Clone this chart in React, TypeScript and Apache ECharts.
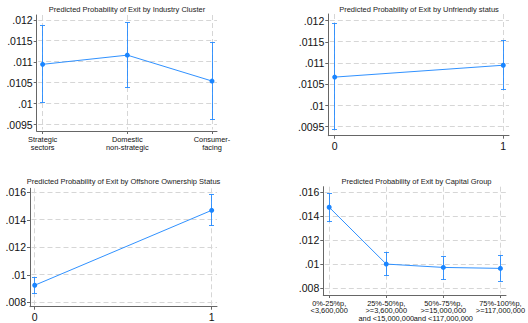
import React, { useEffect, useRef } from "react";
import * as echarts from "echarts";

// ---- Data ----
const industryCats = ["Strategic\nsectors", "Domestic\nnon-strategic", "Consumer-\nfacing"];
const industryMargin = [0.01094, 0.01116, 0.01054];
const industryLo = [0.01002, 0.01038, 0.00962];
const industryHi = [0.01186, 0.01194, 0.01146];
const industryTicks = [0.0095, 0.01, 0.0105, 0.011, 0.0115, 0.012];

const unfriendlyCats = ["0", "1"];
const unfriendlyMargin = [0.01067, 0.01095];
const unfriendlyLo = [0.00944, 0.01037];
const unfriendlyHi = [0.01194, 0.01154];
const unfriendlyTicks = [0.0095, 0.01, 0.0105, 0.011, 0.0115, 0.012];

const offshoreCats = ["0", "1"];
const offshoreMargin = [0.00924, 0.01469];
const offshoreLo = [0.00866, 0.0136];
const offshoreHi = [0.00979, 0.01583];
const offshoreTicks = [0.008, 0.01, 0.012, 0.014, 0.016];

const capitalCats = [
  "0%-25%p,\n<3,600,000",
  "25%-50%p,\n>=3,600,000\nand <15,000,000",
  "50%-75%p,\n>=15,000,000\nand <117,000,000",
  "75%-100%p,\n>=117,000,000",
];
const capitalMargin = [0.01475, 0.01, 0.00972, 0.00964];
const capitalLo = [0.01355, 0.00908, 0.00875, 0.00853];
const capitalHi = [0.01592, 0.01095, 0.01067, 0.0107];
const capitalTicks = [0.008, 0.01, 0.012, 0.014, 0.016];

const titles = [
  "Predicted Probability of Exit by Industry Cluster",
  "Predicted Probability of Exit by Unfriendly status",
  "Predicted Probability of Exit by Offshore Ownership Status",
  "Predicted Probability of Exit by Capital Group",
];

// ---- Layout ----
const FONT = '"Liberation Sans", Arial, sans-serif';
const BLUE = "#1a85ff";
const GRID_COLOR = "#d6d6d6";

const panels = [
  {
    cats: industryCats, margin: industryMargin, lo: industryLo, hi: industryHi, ticks: industryTicks,
    grid: { left: 36.7, top: 15, width: 180.3, height: 116 },
    xMin: -0.07, xMax: 2.059, yMin: 0.009345, yMax: 0.01212, xFont: 7.4, xLH: 7.6, xMargin: 5,
    title: { x: 127, y: 9.5 },
  },
  {
    cats: unfriendlyCats, margin: unfriendlyMargin, lo: unfriendlyLo, hi: unfriendlyHi, ticks: unfriendlyTicks,
    grid: { left: 328.3, top: 14, width: 180.7, height: 121.7 },
    xMin: -0.038, xMax: 1.034, yMin: 0.009288, yMax: 0.012158, xFont: 10.5, xLH: 11, xMargin: 5,
    title: { x: 419, y: 9.5 },
  },
  {
    cats: offshoreCats, margin: offshoreMargin, lo: offshoreLo, hi: offshoreHi, ticks: offshoreTicks,
    grid: { left: 30, top: 188.3, width: 187, height: 118.4 },
    xMin: -0.0266, xMax: 1.03, yMin: 0.00768, yMax: 0.016291, xFont: 10.5, xLH: 11, xMargin: 5,
    title: { x: 123.5, y: 181 },
  },
  {
    cats: capitalCats, margin: capitalMargin, lo: capitalLo, hi: capitalHi, ticks: capitalTicks,
    grid: { left: 323.3, top: 186.7, width: 186.4, height: 108.3 },
    xMin: -0.103, xMax: 3.098, yMin: 0.007415, yMax: 0.016468, xFont: 7.4, xLH: 7.6, xMargin: 4.5,
    title: { x: 416.5, y: 181 },
  },
];

const fmtY = (v: number) => {
  const s = String(+v.toFixed(6));
  return s.replace(/^0\./, ".");
};

const snap = (v: number) => Math.floor(v) + 0.5;

export default function App() {
  const ref = useRef<HTMLDivElement>(null);

  useEffect(() => {
    document.body.style.margin = "0";
    if (!ref.current) return;
    const chart = echarts.init(ref.current, null, { renderer: "svg" });

    const grid: any[] = [];
    const xAxis: any[] = [];
    const yAxis: any[] = [];
    const series: any[] = [];
    const graphic: any[] = [];

    panels.forEach((p, i) => {
      grid.push({ ...p.grid, containLabel: false });
      const idx = p.cats.map((_, k) => k);
      xAxis.push({
        type: "value",
        gridIndex: i,
        min: p.xMin,
        max: p.xMax,
        axisLine: { show: true, onZero: false, lineStyle: { color: "#666", width: 1 } },
        axisTick: { show: true, length: 3, customValues: idx, lineStyle: { color: "#666" } },
        axisLabel: {
          customValues: idx,
          formatter: (v: number) => p.cats[Math.round(v)] ?? "",
          fontFamily: FONT,
          fontSize: p.xFont,
          lineHeight: p.xLH,
          color: "#111",
          margin: p.xMargin,
          align: "center",
        },
        splitLine: { show: false },
      });
      yAxis.push({
        type: "value",
        gridIndex: i,
        min: p.yMin,
        max: p.yMax,
        axisLine: { show: true, onZero: false, lineStyle: { color: "#666", width: 1 } },
        axisTick: { show: true, length: 3, customValues: p.ticks, lineStyle: { color: "#666" } },
        axisLabel: {
          customValues: p.ticks,
          formatter: (v: number) => fmtY(v),
          fontFamily: FONT,
          fontSize: 10.5,
          color: "#111",
          margin: 4,
        },
        splitLine: { show: false },
      });

      // horizontal gridlines at y ticks
      series.push({
        type: "custom",
        xAxisIndex: i,
        yAxisIndex: i,
        silent: true,
        data: p.ticks.map((t) => [0, t]),
        encode: { x: 0, y: 1 },
        renderItem: (params: any, api: any) => {
          const cs = params.coordSys;
          const pt = api.coord([api.value(0), api.value(1)]);
          const y = snap(pt[1]);
          return {
            type: "line",
            shape: { x1: cs.x + 1.5, y1: y, x2: cs.x + cs.width, y2: y },
            style: { stroke: GRID_COLOR, lineWidth: 1, lineDash: [5, 3] },
          };
        },
        z: 1,
      });
      // vertical gridlines at categories
      series.push({
        type: "custom",
        xAxisIndex: i,
        yAxisIndex: i,
        silent: true,
        data: idx.map((k) => [k, p.ticks[0]]),
        encode: { x: 0, y: 1 },
        renderItem: (params: any, api: any) => {
          const cs = params.coordSys;
          const pt = api.coord([api.value(0), api.value(1)]);
          const x = snap(pt[0]);
          return {
            type: "line",
            shape: { x1: x, y1: cs.y, x2: x, y2: cs.y + cs.height - 1.5 },
            style: { stroke: GRID_COLOR, lineWidth: 1, lineDash: [5, 3] },
          };
        },
        z: 1,
      });

      // error bars
      series.push({
        type: "custom",
        xAxisIndex: i,
        yAxisIndex: i,
        data: idx.map((k) => [k, p.lo[k], p.hi[k]]),
        encode: { x: 0, y: [1, 2] },
        renderItem: (params: any, api: any) => {
          const x = api.value(0);
          const a = api.coord([x, api.value(1)]);
          const b = api.coord([x, api.value(2)]);
          const cx = snap(a[0]);
          const ya = snap(a[1]);
          const yb = snap(b[1]);
          const cw = 2.5;
          const st = { stroke: BLUE, lineWidth: 1, opacity: 0.85 };
          return {
            type: "group",
            children: [
              { type: "line", shape: { x1: cx, y1: ya, x2: cx, y2: yb }, style: st },
              { type: "line", shape: { x1: cx - cw, y1: ya, x2: cx + cw, y2: ya }, style: st },
              { type: "line", shape: { x1: cx - cw, y1: yb, x2: cx + cw, y2: yb }, style: st },
            ],
          };
        },
        z: 3,
      });
      // margins line
      series.push({
        type: "line",
        xAxisIndex: i,
        yAxisIndex: i,
        data: idx.map((k) => [k, p.margin[k]]),
        symbol: "circle",
        symbolSize: 5,
        itemStyle: { color: BLUE },
        lineStyle: { color: BLUE, width: 1, opacity: 0.9 },
        z: 4,
      });

      graphic.push({
        type: "text",
        x: p.title.x,
        y: p.title.y,
        style: {
          text: titles[i],
          font: `7.5px ${FONT}`,
          fill: "#222",
          align: "center",
          verticalAlign: "middle",
          textAlign: "center",
          textVerticalAlign: "middle",
        },
      });
    });

    chart.setOption({
      animation: false,
      backgroundColor: "#fff",
      grid,
      xAxis,
      yAxis,
      series,
      graphic,
    });

    return () => chart.dispose();
  }, []);

  return <div ref={ref} style={{ width: 528, height: 323 }} />;
}
